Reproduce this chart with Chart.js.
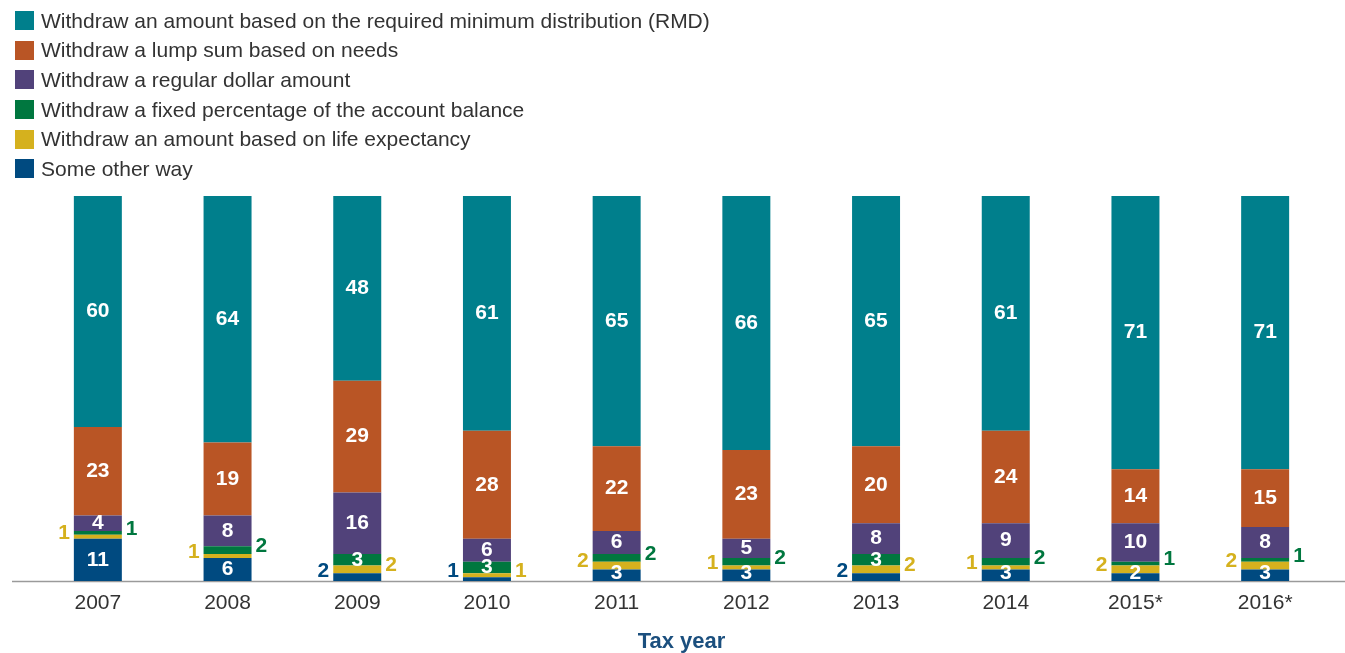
<!DOCTYPE html>
<html>
<head>
<meta charset="utf-8">
<script src="https://cdn.jsdelivr.net/npm/chart.js@4.4.1/dist/chart.umd.min.js"></script>
<style>
    html, body { margin: 0; padding: 0; background: #fff; }
    #wrap { position: relative; width: 1345px; height: 653px; }
    #legend { position: absolute; left: 15px; top: 6px; margin: 0; padding: 0; list-style: none;
              font-family: 'Liberation Sans', sans-serif; font-size: 21px; color: #333; }
    #legend li { height: 29.6px; display: flex; align-items: center; }
    #legend .box { width: 19px; height: 19px; margin-right: 7px; display: inline-block; }
</style>
</head>
<body>
<div id="wrap">
    <canvas id="taxChart"></canvas>
    <ul id="legend"></ul>
</div>
<script>
// Data (percent of respondents)
const years = ['2007', '2008', '2009', '2010', '2011', '2012', '2013', '2014', '2015*', '2016*'];
const otherWay = [11, 6, 2, 1, 3, 3, 2, 3, 2, 3];
const lifeExpectancy = [1, 1, 2, 1, 2, 1, 2, 1, 2, 2];
const fixedPercentage = [1, 2, 3, 3, 2, 2, 3, 2, 1, 1];
const regularDollar = [4, 8, 16, 6, 6, 5, 8, 9, 10, 8];
const lumpSum = [23, 19, 29, 28, 22, 23, 20, 24, 14, 15];
const rmdAmount = [60, 64, 48, 61, 65, 66, 65, 61, 71, 71];

const FONT = "'Liberation Sans', sans-serif";

// where a label goes for small segments
function labelSide(datasetIndex, i) {
    const fixedInside = fixedPercentage[i] >= 3;
    if (datasetIndex === 0) return fixedInside ? 'left' : 'inside';
    if (datasetIndex === 1) return fixedInside ? 'right' : 'left';
    if (datasetIndex === 2) return fixedInside ? 'inside' : 'right';
    return 'inside';
}

const barLabels = {
    id: 'barLabels',
    afterDatasetsDraw(chart) {
        const ctx = chart.ctx;
        const bottom = chart.chartArea.bottom;
        ctx.save();
        ctx.font = 'bold 21px ' + FONT;
        ctx.textBaseline = 'middle';
        chart.data.datasets.forEach((ds, di) => {
            const meta = chart.getDatasetMeta(di);
            meta.data.forEach((bar, i) => {
                const side = labelSide(di, i);
                const mid = (bar.y + bar.base) / 2;
                const half = bar.width / 2;
                if (side === 'inside') {
                    ctx.fillStyle = '#fff';
                    ctx.textAlign = 'center';
                    ctx.fillText(ds.data[i], bar.x, Math.min(mid, bottom - 8));
                } else {
                    const y = Math.min(mid - 4, bottom - 10);
                    ctx.fillStyle = ds.backgroundColor;
                    if (side === 'left') {
                        ctx.textAlign = 'right';
                        ctx.fillText(ds.data[i], bar.x - half - 4, y);
                    } else {
                        ctx.textAlign = 'left';
                        ctx.fillText(ds.data[i], bar.x + half + 4, y);
                    }
                }
            });
        });
        ctx.restore();
    }
};

// grey baseline running past the bars
const baseline = {
    id: 'baseline',
    beforeDatasetsDraw(chart) {
        const ctx = chart.ctx;
        const y = chart.chartArea.bottom + 0.5;
        ctx.save();
        ctx.strokeStyle = '#9a9a9a';
        ctx.lineWidth = 1.5;
        ctx.beginPath();
        ctx.moveTo(12, y);
        ctx.lineTo(chart.width, y);
        ctx.stroke();
        ctx.restore();
    }
};

const taxChart = new Chart(document.getElementById('taxChart').getContext('2d'), {
    type: 'bar',
    data: {
        labels: years,
        datasets: [
            { label: 'Some other way', data: otherWay, backgroundColor: '#004a80' },
            { label: 'Withdraw an amount based on life expectancy', data: lifeExpectancy, backgroundColor: '#d5b11e' },
            { label: 'Withdraw a fixed percentage of the account balance', data: fixedPercentage, backgroundColor: '#00773f' },
            { label: 'Withdraw a regular dollar amount', data: regularDollar, backgroundColor: '#51427a' },
            { label: 'Withdraw a lump sum based on needs', data: lumpSum, backgroundColor: '#b95525' },
            { label: 'Withdraw an amount based on the required minimum distribution (RMD)', data: rmdAmount, backgroundColor: '#007f8c' }
        ]
    },
    options: {
        responsive: true,
        maintainAspectRatio: false,
        animation: false,
        layout: { padding: { top: 196, left: 33, right: 15, bottom: 0 } },
        datasets: { bar: { barPercentage: 0.37, categoryPercentage: 1.0 } },
        plugins: {
            legend: { display: false },
            tooltip: { enabled: false }
        },
        scales: {
            x: {
                stacked: true,
                grid: { display: false },
                border: { display: false },
                afterFit(scale) { scale.height = 72; },
                ticks: {
                    color: '#333',
                    padding: 2,
                    maxRotation: 0,
                    autoSkip: false,
                    font: { family: FONT, size: 21 }
                },
                title: {
                    display: true,
                    text: 'Tax year',
                    color: '#1b4f7e',
                    padding: { top: 5, bottom: 0 },
                    font: { family: FONT, size: 22, weight: 'bold', lineHeight: 1.04 }
                }
            },
            y: {
                stacked: true,
                display: false,
                min: 0,
                max: 100
            }
        }
    },
    plugins: [baseline, barLabels]
});

// Legend, top to bottom matching the stack order reversed
const legendEl = document.getElementById('legend');
taxChart.data.datasets.slice().reverse().forEach(ds => {
    const li = document.createElement('li');
    li.innerHTML = `<span class="box" style="background:${ds.backgroundColor}"></span>${ds.label}`;
    legendEl.appendChild(li);
});
</script>
</body>
</html>
